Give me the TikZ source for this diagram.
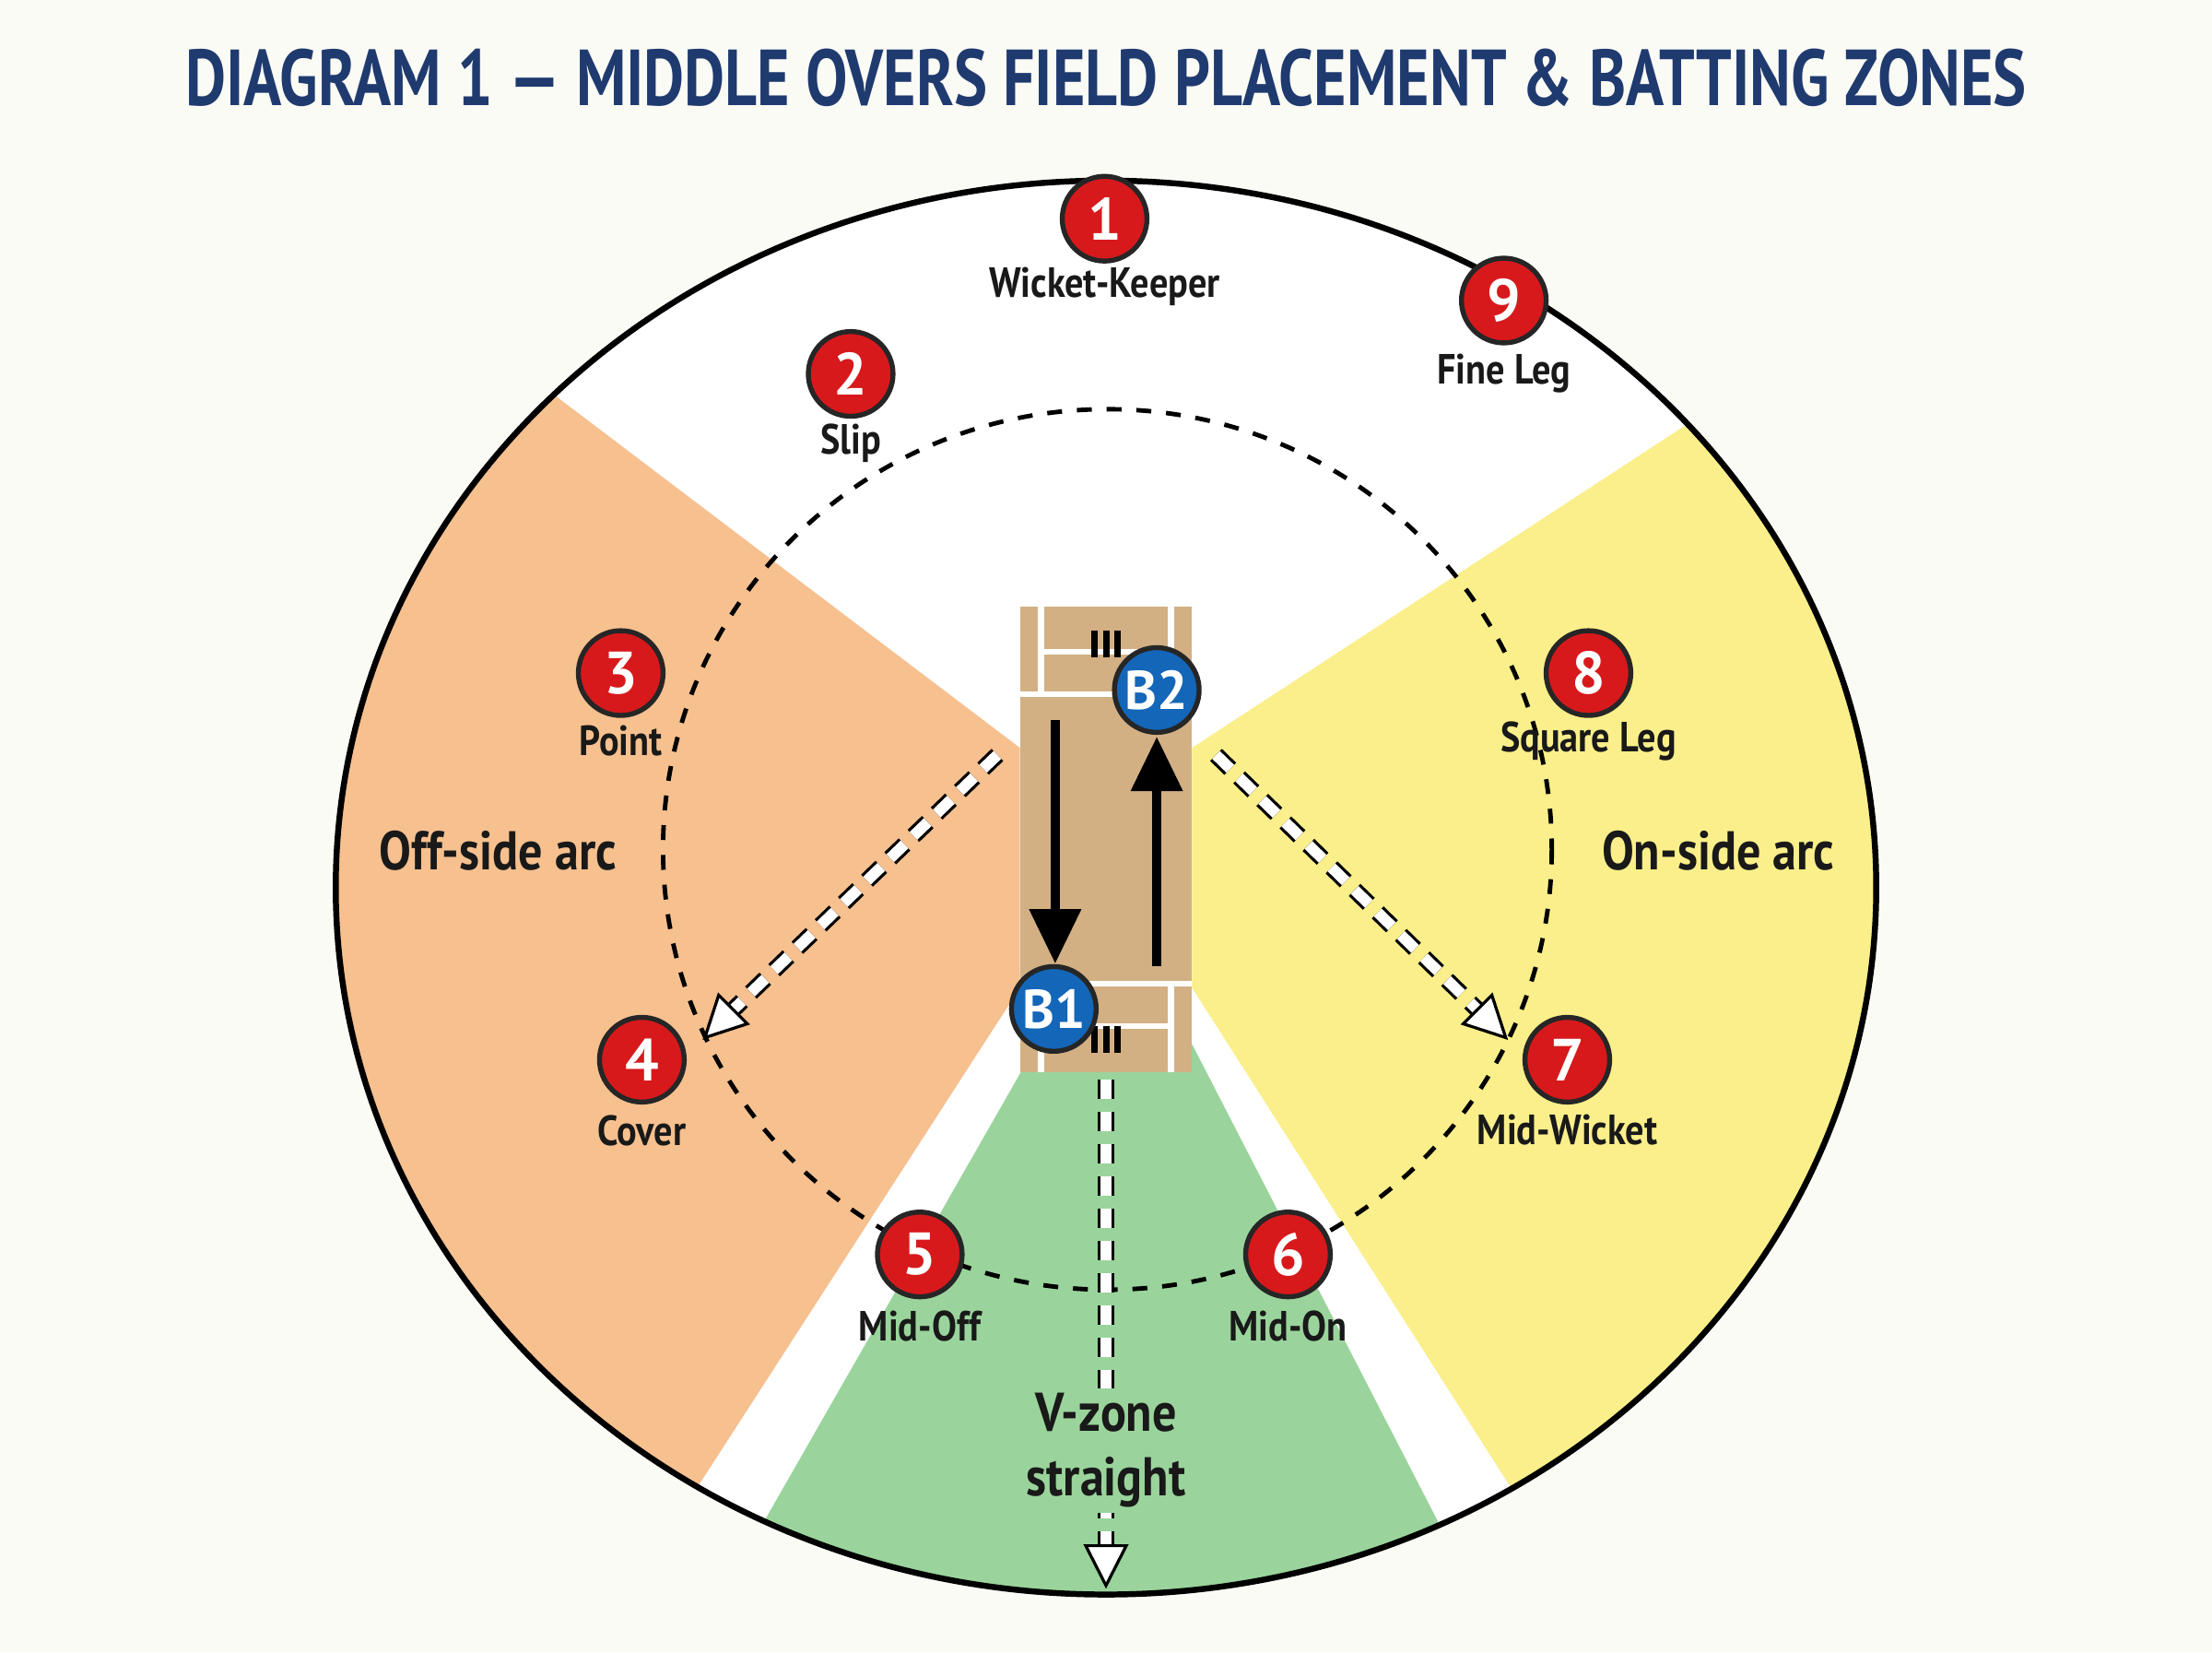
\documentclass[tikz,border=0pt]{standalone}
\usepackage{fontspec}
\setmainfont{PT Sans}
\usetikzlibrary{arrows.meta}
\definecolor{bg}{HTML}{FBFBF6}
\definecolor{navy}{HTML}{1F3A6E}
\definecolor{offc}{HTML}{F6C08F}
\definecolor{onc}{HTML}{FAEF8A}
\definecolor{vc}{HTML}{9AD49C}
\definecolor{pitchc}{HTML}{D2B084}
\definecolor{redc}{HTML}{D7191C}
\definecolor{bluec}{HTML}{1466B8}
\newcommand{\nrw}[1]{\scalebox{0.88}[1]{#1}}
\tikzset{
 fld/.style={circle,fill=redc,draw=black!85,line width=1pt,minimum size=0.6cm,inner sep=0pt,text=white,font=\bfseries\fontsize{12}{12}\selectfont},
 bat/.style={circle,fill=bluec,draw=black!85,line width=1pt,minimum size=0.6cm,inner sep=0pt,text=white,font=\bfseries\fontsize{11}{11}\selectfont},
 lbl/.style={font=\bfseries\fontsize{8.5}{9}\selectfont,text=black!90},
 zone/.style={font=\bfseries\fontsize{11}{13}\selectfont,text=black!90,align=center},
 hollow/.style={draw=black,double=white,double distance=2.2pt,line width=0.6pt,dash pattern=on 4pt off 2.5pt},
 hhead/.style={-{Triangle[open,fill=white,length=9pt,width=9pt]},draw=black,line width=0.6pt},
 pline/.style={draw=white,line width=1.2pt},
}
\begin{document}
\begin{tikzpicture}[x=0.01cm,y=-0.01cm]
\fill[bg] (0,0) rectangle (1568,1171);
\useasboundingbox (0,0) rectangle (1568,1171);
\node[font=\bfseries\fontsize{16}{16}\selectfont,text=navy] (title) at (784,55) {\scalebox{0.79}[1]{DIAGRAM 1 — MIDDLE OVERS FIELD PLACEMENT \& BATTING ZONES}};
\fill[white] (784,629) ellipse[x radius=546,y radius=501];
\begin{scope}
\clip (784,629) ellipse[x radius=546,y radius=501];
\fill[offc] (723,530) -- (100,58) -- (100,1200) -- (400,1200) -- (723,700) -- cycle;
\fill[vc] (735,740) -- (472,1200) -- (1082,1200) -- (845,740) -- cycle;
\fill[onc] (845,530) -- (1500,102) -- (1500,1200) -- (1164,1200) -- (845,700) -- cycle;
\end{scope}
\draw[line width=1.2pt] (784,629) ellipse[x radius=546,y radius=501];
\draw[dashed,line width=0.9pt] (785,602) ellipse[x radius=315,y radius=312];
% pitch
\fill[pitchc] (723,430) rectangle (845,760);
\draw[pline] (723,492) -- (845,492);
\draw[pline] (738,462) -- (830,462);
\draw[pline] (738,430) -- (738,492);
\draw[pline] (830,430) -- (830,492);
\draw[pline] (723,697) -- (845,697);
\draw[pline] (738,727) -- (830,727);
\draw[pline] (738,697) -- (738,760);
\draw[pline] (830,697) -- (830,760);
\foreach \sx in {776,784,792}{
 \draw[line width=1.3pt] (\sx,447) -- (\sx,466);
 \draw[line width=1.3pt] (\sx,727) -- (\sx,746);}
% batting arrows
\coordinate (a1s) at (748,510); \coordinate (a1e) at (748,683);
\coordinate (a2s) at (820,685); \coordinate (a2e) at (820,522);
\draw[line width=2pt,-{Triangle[length=11pt,width=10pt]}] (a1s) -- (a1e);
\draw[line width=2pt,-{Triangle[length=11pt,width=10pt]}] (a2s) -- (a2e);
% hollow arrows
\coordinate (h1s) at (707,535); \coordinate (h1m) at (512,723); \coordinate (h1e) at (498,737);
\coordinate (h2s) at (862,535); \coordinate (h2m) at (1055,723); \coordinate (h2e) at (1069,737);
\coordinate (h3s) at (784,765); \coordinate (h3m) at (784,1100); \coordinate (h3e) at (784,1126);
\draw[hollow] (h1s) -- (h1m);
\draw[hhead] (h1m) -- (h1e);
\draw[hollow] (h2s) -- (h2m);
\draw[hhead] (h2m) -- (h2e);
\draw[hollow] (h3s) -- (h3m);
\draw[hhead] (h3m) -- (h3e);
% batters
\node[bat] (b2) at (820,489) {B2};
\node[bat] (b1) at (747,715) {B1};
% fielders
\node[fld] (f1) at (783,155) {1};
\node[lbl] (l1) at (783,203) {\nrw{Wicket-Keeper}};
\node[fld] (f2) at (603,265) {2};
\node[lbl] (l2) at (603,314) {\nrw{Slip}};
\node[fld] (f9) at (1066,213) {9};
\node[lbl] (l9) at (1066,265) {\nrw{Fine Leg}};
\node[fld] (f3) at (440,477) {3};
\node[lbl] (l3) at (440,525) {\nrw{Point}};
\node[fld] (f8) at (1126,477) {8};
\node[lbl] (l8) at (1126,525) {\nrw{Square Leg}};
\node[fld] (f4) at (455,751) {4};
\node[lbl] (l4) at (455,801) {\nrw{Cover}};
\node[fld] (f7) at (1111,751) {7};
\node[lbl] (l7) at (1111,801) {\nrw{Mid-Wicket}};
\node[fld] (f5) at (652,889) {5};
\node[lbl] (l5) at (652,940) {\nrw{Mid-Off}};
\node[fld] (f6) at (913,889) {6};
\node[lbl] (l6) at (913,940) {\nrw{Mid-On}};
% zones
\node[zone] (zoff) at (353,603) {\nrw{Off-side arc}};
\node[zone] (zon) at (1218,603) {\nrw{On-side arc}};
\node[zone,fill=vc,inner sep=1pt] (zv) at (784,1028) {\nrw{V-zone}\\\nrw{straight}};
\end{tikzpicture}
\end{document}
